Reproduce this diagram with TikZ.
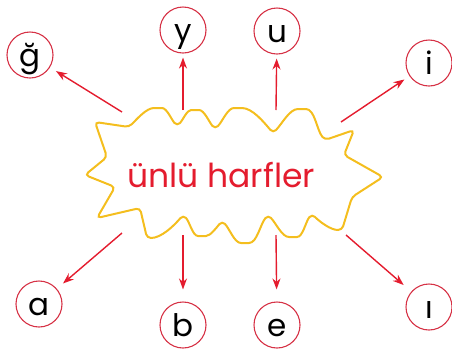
\documentclass[tikz,border=0pt]{standalone}
\usepackage{fontspec}
\setmainfont{Poppins}
\usetikzlibrary{arrows.meta}
\definecolor{harfred}{RGB}{228,28,46}
\definecolor{ringred}{RGB}{214,50,70}
\definecolor{cloudyel}{RGB}{244,190,30}
\begin{document}
\begin{tikzpicture}[x=1pt,y=-1pt,
	harf/.style={circle,draw=ringred,line width=1.1pt,minimum size=46pt,inner sep=0pt,
		text height=26pt,text depth=4pt,font=\fontsize{31}{31}\selectfont},
	ok/.style={-{Stealth[length=11pt,width=8pt]},draw=harfred,line width=1.4pt},
	ua/.style={out=45,in=180,looseness=0.85},ub/.style={out=0,in=130,looseness=0.85},
	da/.style={out=230,in=0,looseness=0.85},db/.style={out=180,in=315,looseness=0.85}]
	\useasboundingbox (0,0) rectangle (452,349);
	% bulut
	\draw [cloudyel,line width=2pt,rounded corners=4pt]
		(95,122) -- (129,127) to[ua] (158,108) to[ub] (177,126) to[ua] (195,110) to[ub] (215,129)
		to[ua] (238,108) to[ub] (273,133) to[ua] (302,109) to[ub] (325,140)
		-- (354,130) -- (344,155) -- (383,177) -- (352,197) -- (342,230)
		to[db] (312,214) to[da] (293,237) to[db] (268,215) to[da] (245,243) to[db] (222,221)
		to[da] (202,236) to[db] (183,215) to[da] (147,238)
		-- (140,208) -- (97,218) -- (115,187) -- (85,175) -- (107,157) -- cycle;
	\node [anchor=base,text=harfred,font=\fontsize{33}{33}\selectfont] (baslik) at (221,187) {ünlü harfler};
	% harfler
	\node [harf] (gb) at (30,55) {ğ};
	\node [harf] (y) at (183,30) {y};
	\node [harf] (u) at (277,31) {u};
	\node [harf] (i) at (429,63) {i};
	\node [harf] (a) at (39,304) {a};
	\node [harf] (b) at (183,325) {b};
	\node [harf] (e) at (277,325) {e};
	\node [harf] (ii) at (429,307) {ı};
	% oklar
	\coordinate (s1) at (122,112);
	\coordinate (s2) at (183,110);
	\coordinate (s3) at (276,110);
	\coordinate (s4) at (341,122);
	\coordinate (s5) at (122,233);
	\coordinate (s6) at (183,235);
	\coordinate (s7) at (276,235);
	\coordinate (s8) at (346,235);
	\draw [ok,shorten >=7pt] (s1) to (gb);
	\draw [ok,shorten >=4pt] (s2) to (y);
	\draw [ok,shorten >=4pt] (s3) to (u);
	\draw [ok,shorten >=6pt] (s4) to (i);
	\draw [ok,shorten >=8pt] (s5) to (a);
	\draw [ok,shorten >=12pt] (s6) to (b);
	\draw [ok,shorten >=12pt] (s7) to (e);
	\draw [ok,shorten >=10pt] (s8) to (ii);
\end{tikzpicture}
\end{document}
